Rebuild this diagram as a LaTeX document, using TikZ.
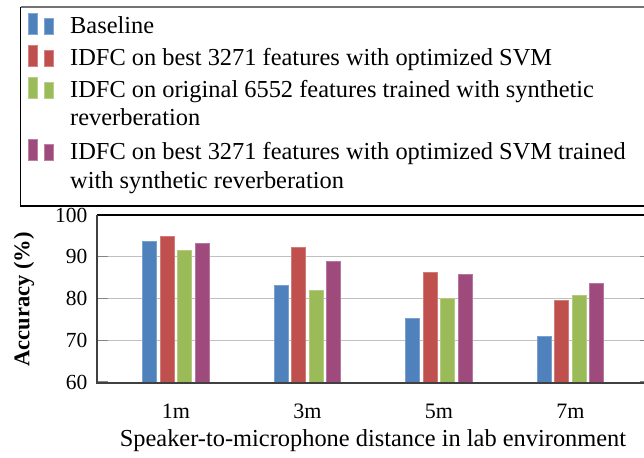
\documentclass[tikz,border=0pt]{standalone}
\usepackage{fontspec}
\setmainfont{Liberation Serif}
\definecolor{cblue}{HTML}{4F81BD}
\definecolor{cred}{HTML}{C0504D}
\definecolor{cgreen}{HTML}{9BBB59}
\definecolor{cmag}{HTML}{9F4A7C}
\definecolor{gridgray}{HTML}{C0C0C0}
\definecolor{tickgray}{HTML}{858585}
\definecolor{axisgray}{HTML}{404040}
\tikzset{
  legtext/.style={anchor=base west, inner sep=0pt, font=\fontsize{24.4}{28.4}\selectfont},
  ticklab/.style={anchor=east, inner sep=0pt, font=\fontsize{21.5}{24}\selectfont},
  catlab/.style={anchor=base, inner sep=0pt, font=\fontsize{22}{24}\selectfont},
  gridline/.style={draw=gridgray, line width=1pt},
  tickmark/.style={draw=tickgray, line width=1.3pt},
  barbox/.style={line width=0.6pt},
}
\newcommand{\legmark}[2]{% color, baseline y
  \fill[#1, draw=#1!70!white, line width=0.5pt] (28.5,#2) rectangle (37.5,#2-21);
  \fill[#1, draw=#1!70!white, line width=0.5pt] (44.5,#2) rectangle (53.5,#2-16);
}
\begin{document}
\begin{tikzpicture}[x=1pt,y=-1pt]
\useasboundingbox (0,0) rectangle (644,457);
\clip (0,0) rectangle (644,457);
\fill[white] (0,0) rectangle (644,457);
% legend frame
\draw[black, line width=1.2pt] (20.5,7.5) -- (20.5,206) -- (660,206);
\draw[black!55, line width=2pt] (20.5,7.5) -- (660,7.5);
% legend entries
\legmark{cblue}{34}
\node[legtext] (l1) at (70,34) {Baseline};
\legmark{cred}{66}
\node[legtext] (l2) at (70,66) {IDFC on best 3271 features with optimized SVM};
\legmark{cgreen}{98}
\node[legtext] (l3a) at (70,98) {IDFC on original 6552 features trained with synthetic};
\node[legtext] (l3b) at (70,126) {reverberation};
\legmark{cmag}{160}
\node[legtext] (l4a) at (70,160) {IDFC on best 3271 features with optimized SVM trained};
\node[legtext] (l4b) at (70,188) {with synthetic reverberation};
% gridlines and ticks
\foreach \v in {70,80,90}{
  \draw[gridline] (97,{382-(\v-60)*4.175}) -- (651,{382-(\v-60)*4.175});
}
\foreach \v in {60,70,80,90,100}{
  \draw[tickmark] (97,{382-(\v-60)*4.175}) -- (108,{382-(\v-60)*4.175});
  \draw[tickmark] (640,{382-(\v-60)*4.175}) -- (651,{382-(\v-60)*4.175});
}
\foreach \v in {60,70,80,90,100}{
  \node[ticklab] (t\v) at (87.5,{382-(\v-60)*4.175}) {\v};
}
% bars
\foreach \c/\vals [count=\g from 0] in {1m/{93.8,95.0,91.5,93.3},3m/{83.2,92.2,82.0,89.0},5m/{75.3,86.2,80.1,85.7},7m/{71.0,79.5,80.7,83.7}}{
  \pgfmathsetmacro{\cx}{176+131.5*\g}
  \foreach \val [count=\i from 0] in \vals {
    \pgfmathsetmacro{\bx}{\cx-26.25+17.5*\i-7}
    \pgfmathsetmacro{\by}{382-(\val-60)*4.175}
    \ifcase\i \def\bc{cblue}\or \def\bc{cred}\or \def\bc{cgreen}\or \def\bc{cmag}\fi
    \fill[\bc, draw=\bc!75!white, barbox] (\bx,382) rectangle ({\bx+14},\by);
  }
  \node[catlab] (c\c) at (\cx,418) {\c};
}
% axes
\draw[black, line width=1.2pt] (97,215) -- (660,215);
\draw[axisgray, line width=1.2pt] (97,215) -- (97,383);
\draw[axisgray, line width=2pt] (96.4,383) -- (660,383);
% axis titles
\node[anchor=base, inner sep=0pt, font=\fontsize{24.4}{28}\selectfont] (xt) at (373,446.5) {Speaker-to-microphone distance in lab environment};
\node[rotate=90, inner sep=0pt, font=\bfseries\fontsize{22.5}{26}\selectfont] (yt) at (24,299.5) {Accuracy (\%)};
\end{tikzpicture}
\end{document}
